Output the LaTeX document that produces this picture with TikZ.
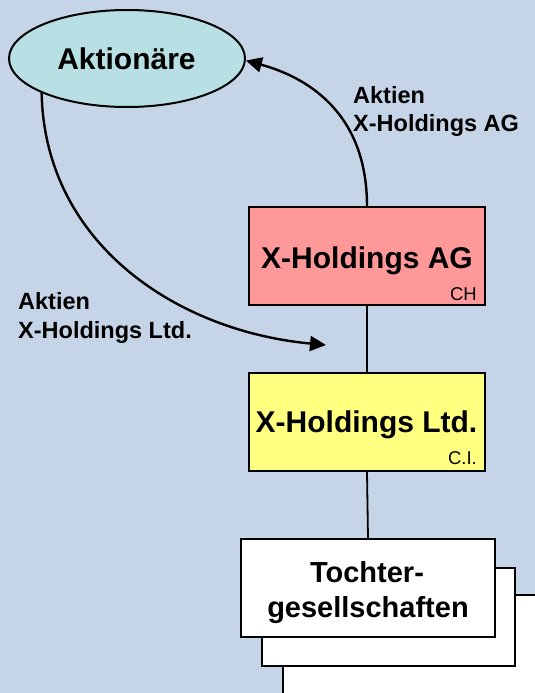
\documentclass[tikz,border=0pt]{standalone}
\usepackage{fontspec}
\setmainfont{Liberation Sans}
\usetikzlibrary{arrows.meta,shapes.geometric}

\definecolor{bgblue}{RGB}{197,213,231}
\definecolor{ovalfill}{RGB}{184,224,228}
\definecolor{agfill}{RGB}{255,153,153}
\definecolor{ltdfill}{RGB}{255,255,128}

\tikzset{
  oval/.style={ellipse, draw=black, line width=2pt, fill=ovalfill,
    minimum width=236pt, minimum height=97pt, inner sep=0pt},
  company/.style={rectangle, draw=black, line width=2pt,
    minimum width=236pt, minimum height=98pt, inner sep=0pt},
  sub/.style={rectangle, draw=black, line width=2pt, fill=white, inner sep=0pt},
  bigtext/.style={inner sep=0pt, anchor=base,
    font=\fontsize{30}{36}\selectfont\bfseries},
  subtext/.style={inner sep=0pt, anchor=base,
    font=\fontsize{29}{35}\selectfont\bfseries},
  tag/.style={inner sep=0pt, anchor=base east,
    font=\fontsize{18.5}{21}\selectfont},
  flowlabel/.style={inner sep=0pt, anchor=base west, align=left,
    font=\fontsize{23.5}{28.3}\selectfont\bfseries},
  conn/.style={line width=2.4pt, -{Triangle[length=16pt,width=15pt]}},
  link/.style={line width=1.8pt}
}

\begin{document}
\begin{tikzpicture}[x=1pt,y=-1pt]
  % canvas
  \fill[bgblue] (0,0) rectangle (535,693);
  \useasboundingbox (0,0) rectangle (535,693);
  \clip (0,0) rectangle (535,693);

  % shareholders
  \node[oval] (ak) at (127,58.5) {};
  \node[bigtext] (akt) at (126.5,70) {Aktionäre};

  % holding companies
  \node[company, fill=agfill] (ag) at (367,256) {};
  \node[bigtext] (agt) at (367,268) {X-Holdings AG};
  \node[tag] (agc) at (477,300.5) {CH};

  \node[company, fill=ltdfill] (ltd) at (367,422) {};
  \node[bigtext] (ltdt) at (366.5,432.5) {X-Holdings Ltd.};
  \node[tag] (ltdc) at (477,464) {C.I.};

  % stacked subsidiaries
  \node[sub, minimum width=257pt, minimum height=105pt] (sub3) at (411.5,647.5) {};
  \node[sub, minimum width=253pt, minimum height=98pt] (sub2) at (388.5,617) {};
  \node[sub, minimum width=254pt, minimum height=98pt] (sub1) at (368,588) {};
  \node[subtext] (subt1) at (367,582) {Tochter-};
  \node[subtext] (subt2) at (368,617) {gesellschaften};

  % ownership lines
  \draw[link] (ag.south) -- (ltd.north);
  \draw[link] (ltd.south) -- (sub1.north);

  % share flows
  \coordinate (tipL) at (326,345);
  \draw[conn] (ag.north) .. controls +(0,-95) and +(59,16) .. (ak.-1);
  \draw[conn] (ak.202.6) .. controls +(3,150) and +(-150,-14) .. (tipL);

  % labels (base anchor sits on the last line)
  \node[flowlabel] (lab1) at (353,131.5) {Aktien\\X-Holdings AG};
  \node[flowlabel] (lab2) at (18,338) {Aktien\\X-Holdings Ltd.};
\end{tikzpicture}
\end{document}
